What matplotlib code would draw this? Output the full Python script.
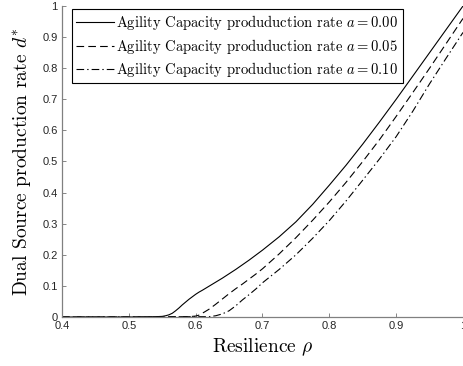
import numpy as np
import matplotlib
matplotlib.use('Agg')
import matplotlib.pyplot as plt

# resilience grid and production rates
rho = [0.40, 0.45, 0.50, 0.54, 0.55, 0.555, 0.56, 0.565, 0.57, 0.575, 0.58, 0.59,
       0.60, 0.605, 0.61, 0.62, 0.63, 0.64, 0.65, 0.66, 0.67, 0.68, 0.69, 0.70,
       0.725, 0.75, 0.775, 0.80, 0.825, 0.85, 0.875, 0.90, 0.925, 0.95, 0.975, 1.00]

# a = 0.00
d_a000 = [0.000, 0.000, 0.000, 0.001, 0.002, 0.004, 0.007, 0.012, 0.020, 0.029, 0.039, 0.057,
          0.073, 0.080, 0.086, 0.099, 0.112, 0.125, 0.139, 0.153, 0.168, 0.183, 0.199, 0.215,
          0.258, 0.306, 0.362, 0.424, 0.488, 0.556, 0.627, 0.700, 0.775, 0.850, 0.925, 1.000]
# a = 0.05
d_a005 = [0.000, 0.000, 0.000, 0.000, 0.000, 0.000, 0.001, 0.001, 0.001, 0.001, 0.001, 0.001,
          0.003, 0.006, 0.012, 0.025, 0.041, 0.058, 0.075, 0.091, 0.106, 0.122, 0.138, 0.155,
          0.203, 0.255, 0.311, 0.370, 0.433, 0.500, 0.570, 0.645, 0.722, 0.800, 0.880, 0.960]
# a = 0.10
d_a010 = [0.000, 0.000, 0.000, 0.000, 0.000, 0.000, 0.000, 0.000, 0.000, 0.001, 0.001, 0.001,
          0.001, 0.001, 0.001, 0.001, 0.004, 0.010, 0.020, 0.036, 0.055, 0.072, 0.090, 0.110,
          0.153, 0.200, 0.253, 0.310, 0.373, 0.440, 0.508, 0.580, 0.662, 0.750, 0.833, 0.915]

labels = [r'Agility Capacity produduction rate $a = 0.00$',
          r'Agility Capacity produduction rate $a = 0.05$',
          r'Agility Capacity produduction rate $a = 0.10$']
dash_styles = [(None, None), (5.5, 3.0), (5.5, 2.2, 1.0, 2.2)]

x_ticks = [0.4, 0.5, 0.6, 0.7, 0.8, 0.9, 1.0]
x_tick_labels = ['0.4', '0.5', '0.6', '0.7', '0.8', '0.9', '1']
y_ticks = [0.0, 0.1, 0.2, 0.3, 0.4, 0.5, 0.6, 0.7, 0.8, 0.9, 1.0]
y_tick_labels = ['0', '0.1', '0.2', '0.3', '0.4', '0.5', '0.6', '0.7', '0.8', '0.9', '1']


def main():
    plt.rcParams['mathtext.fontset'] = 'cm'
    plt.rcParams['axes.unicode_minus'] = False
    plt.rcParams['lines.scale_dashes'] = False

    fig = plt.figure(figsize=(4.64, 3.66), dpi=100)
    ax = fig.add_axes([62 / 464, 49 / 366, 401 / 464, 311 / 366])

    # 1. curves
    for d, dsh, lab in zip([d_a000, d_a005, d_a010], dash_styles, labels):
        line, = ax.plot(rho, d, '-', color='black', linewidth=0.8, label=lab)
        if dsh[0] is not None:
            line.set_dashes(dsh)

    # 2. axes in matlab look
    ax.set_xlim(0.4, 1.0)
    ax.set_ylim(0.0, 1.0)
    ax.spines['top'].set_visible(False)
    ax.spines['right'].set_visible(False)
    for s in ['left', 'bottom']:
        ax.spines[s].set_color('0.5')
        ax.spines[s].set_linewidth(0.9)
    ax.set_xticks(x_ticks)
    ax.set_xticklabels(x_tick_labels)
    ax.set_yticks(y_ticks)
    ax.set_yticklabels(y_tick_labels)
    ax.tick_params(direction='in', length=3, width=0.6, color='0.45',
                   labelsize=8, labelcolor='0.15', pad=3)
    for t in ax.get_xticklabels() + ax.get_yticklabels():
        t.set_fontfamily('Liberation Sans')

    ax.set_xlabel(r'Resilience $\rho$', fontfamily='cmr10', fontsize=14, labelpad=4)
    ax.set_ylabel(r'Dual Source production rate $d^{*}$', fontfamily='cmr10', fontsize=14, labelpad=7)

    # 3. legend
    leg = ax.legend(loc='upper left', bbox_to_anchor=(10 / 401, 1 - 3 / 311), borderaxespad=0,
                    prop={'family': 'cmr10', 'size': 10.5}, fancybox=False,
                    handlelength=2.6, handletextpad=0.15, labelspacing=0.3,
                    borderpad=0.3, framealpha=1)
    leg.get_frame().set_edgecolor('black')
    leg.get_frame().set_linewidth(0.8)

    fig.savefig('out.png', dpi=100)
    print('finished')


if __name__ == '__main__': main()
